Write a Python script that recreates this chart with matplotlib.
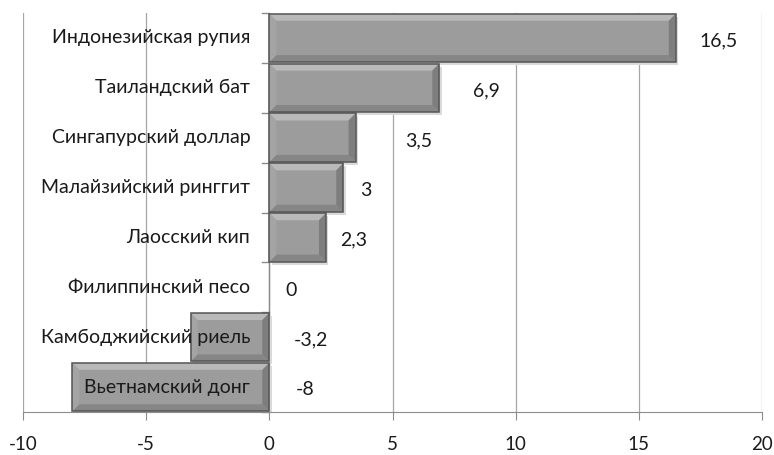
import numpy as np
import matplotlib.pyplot as plt
from matplotlib.patches import Polygon, Rectangle

# --- данные ---
currencies = ["Индонезийская рупия", "Таиландский бат", "Сингапурский доллар",
              "Малайзийский ринггит", "Лаосский кип", "Филиппинский песо",
              "Камбоджийский риель", "Вьетнамский донг"]
values = [16.5, 6.9, 3.5, 3.0, 2.3, 0.0, -3.2, -8.0]
value_text = ["16,5", "6,9", "3,5", "3", "2,3", "0", "-3,2", "-8"]
xticks = [-10, -5, 0, 5, 10, 15, 20]

# отступ подписи значения от конца столбика, px
label_pad_px = [24, 34, 50, 17, 14, 16, 24, 26]

plt.rcParams['font.family'] = ['Lato', 'DejaVu Sans']

W, H = 774, 455
fig = plt.figure(figsize=(W / 100, H / 100), dpi=100)
ax = fig.add_axes([23 / W, 1 - 412 / H, (762 - 23) / W, (412 - 13) / H])

n = len(currencies)
ypos = np.arange(n)
bar_h = 0.97
px_x = (762 - 23) / 30.0          # px per unit x
px_y = (412 - 13) / n             # px per category
bev = 7                           # bevel, px
bx, by = bev / px_x, bev / px_y

for y, v in zip(ypos, values):
    if v == 0:
        continue
    x0, x1 = min(0, v), max(0, v)
    y0, y1 = y - bar_h / 2, y + bar_h / 2   # y0 = top (inverted axis)
    # тень
    ax.add_patch(Rectangle((x0 + 2.5 / px_x, y0 + 3 / px_y), x1 - x0, bar_h,
                           facecolor="#dadada", edgecolor="none", zorder=2))
    ax.add_patch(Rectangle((x0, y0), x1 - x0, bar_h, facecolor="#9c9c9c",
                           edgecolor="none", zorder=3))
    bxx = min(bx, (x1 - x0) / 3)
    # фаска: верх, низ, лево, право
    ax.add_patch(Polygon([(x0, y0), (x1, y0), (x1 - bxx, y0 + by), (x0 + bxx, y0 + by)],
                         closed=True, facecolor="#b9b9b9", edgecolor="none", zorder=4))
    ax.add_patch(Polygon([(x0, y1), (x1, y1), (x1 - bxx, y1 - by), (x0 + bxx, y1 - by)],
                         closed=True, facecolor="#868686", edgecolor="none", zorder=4))
    ax.add_patch(Polygon([(x0, y0), (x0 + bxx, y0 + by), (x0 + bxx, y1 - by), (x0, y1)],
                         closed=True, facecolor="#a4a4a4", edgecolor="none", zorder=4))
    ax.add_patch(Polygon([(x1, y0), (x1 - bxx, y0 + by), (x1 - bxx, y1 - by), (x1, y1)],
                         closed=True, facecolor="#7e7e7e", edgecolor="none", zorder=4))
    ax.add_patch(Rectangle((x0, y0), x1 - x0, bar_h, facecolor="none",
                           edgecolor="#555555", lw=1.1, zorder=5))

ax.set_xlim(-10, 20)
ax.set_ylim(n - 0.5, -0.5)
ax.set_xticks(xticks)
ax.set_xticklabels([str(t) for t in xticks], fontsize=13.5, color="#1a1a1a")
ax.tick_params(axis="x", length=6, color="#8c8c8c", pad=11)
ax.set_yticks([])
ax.xaxis.grid(True, color="#a6a6a6", lw=0.9)
ax.set_axisbelow(True)
for s in ("top", "right", "left"):
    ax.spines[s].set_visible(False)
ax.spines["bottom"].set_color("#8c8c8c")

# ось в нуле с делениями между категориями
ax.axvline(0, color="#8c8c8c", lw=1, zorder=1)
for b in np.arange(n + 1) - 0.5:
    ax.plot([-7.5 / px_x, 0], [b, b], color="#8c8c8c", lw=1, zorder=1, clip_on=False)

for y, name in zip(ypos, currencies):
    ax.annotate(name, xy=(0, y), xytext=(-19 * 0.72, 0), textcoords="offset points",
                ha="right", va="center", fontsize=14, color="#1a1a1a", zorder=6)

for y, v, t, p in zip(ypos, values, value_text, label_pad_px):
    ax.annotate(t, xy=(max(v, 0), y), xytext=(p * 0.72, -2), textcoords="offset points",
                ha="left", va="center", fontsize=14, color="#1a1a1a", zorder=6)

fig.savefig("out.png", dpi=100)
